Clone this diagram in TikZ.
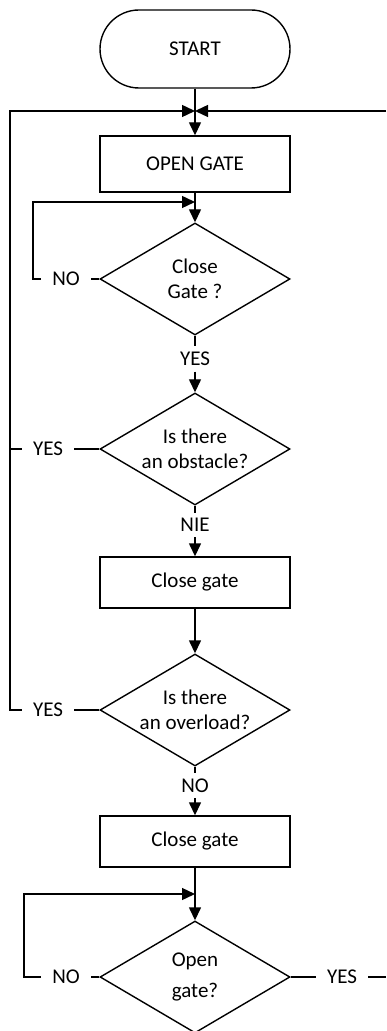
\documentclass[tikz,border=0pt]{standalone}
\usepackage{fontspec}
\setmainfont{Carlito}
\usetikzlibrary{arrows.meta,shapes.geometric}

\tikzset{
  termbox/.style={draw, rounded corners=19.5pt, minimum width=95pt, minimum height=39pt},
  procbox/.style={draw, minimum width=95pt},
  decbox/.style={draw, diamond, aspect=1.7, inner sep=0pt, minimum width=95pt, minimum height=56pt, align=center},
  lbl/.style={inner xsep=5.3pt, inner ysep=2.5pt},
  arr/.style={-{Triangle[length=6.5pt,width=6pt]}}
}

\begin{document}
\begin{tikzpicture}[x=0.5pt, y=0.5pt, line width=0.7pt, font=\fontsize{10.5}{12.5}\selectfont]
\useasboundingbox (0,0) rectangle (386,-1031);

%Main column
\node[termbox] (start) at (195,-49) {START};
\node[procbox, minimum height=28pt] (open) at (195,-164) {OPEN GATE};
\node[decbox] (close) at (195,-279) {Close\\Gate ?};
\node[decbox] (obst) at (195,-449) {Is there\\an obstacle?};
\node[procbox, minimum height=25.5pt] (shut) at (195,-582.5) {Close gate};
\node[decbox] (over) at (195,-710) {Is there\\an overload?};
\node[procbox, minimum height=25.5pt] (shutb) at (195,-841.5) {Close gate};
\node[decbox] (reopen) at (195,-977) {Open\\[3pt]gate?};

%Answers
\node[lbl] (closeno) at (66,-279) {NO};
\node[lbl] (closeyes) at (195,-359) {YES};
\node[lbl] (obstyes) at (48,-449) {YES};
\node[lbl] (obstno) at (195,-525) {NIE};
\node[lbl] (overyes) at (48,-710) {YES};
\node[lbl] (overno) at (195,-785.5) {NO};
\node[lbl] (reopenno) at (66,-977) {NO};
\node[lbl] (reopenyes) at (342,-977) {YES};

%Junctions and loop corners
\coordinate (top) at (195,-111);
\coordinate (topl) at (10,-111);
\coordinate (topr) at (386,-111);
\coordinate (mid) at (195,-202);
\coordinate (midl) at (33,-202);
\coordinate (bot) at (195,-894);
\coordinate (botl) at (24,-894);
\coordinate (edge) at (386,-977);

%Down the column
\draw [arr] (start) -- (open);
\draw [arr] (open) -- (close);
\draw (close) -- (closeyes);
\draw [arr] (closeyes) -- (obst);
\draw (obst) -- (obstno);
\draw [arr] (obstno) -- (shut);
\draw [arr] (shut) -- (over);
\draw (over) -- (overno);
\draw [arr] (overno) -- (shutb);
\draw [arr] (shutb) -- (reopen);

%Loops back
\draw (close) -- (closeno);
\draw [arr] (closeno) -| (midl) -- (mid);
\draw (obst) -- (obstyes);
\draw (obstyes) -- (obstyes -| topl);
\draw (over) -- (overyes);
\draw [arr] (overyes) -| (topl) -- (top);
\draw [arr] (topr) -- (top);
\draw (reopen) -- (reopenno);
\draw [arr] (reopenno) -| (botl) -- (bot);
\draw (reopen) -- (reopenyes);
\draw (reopenyes) -- (edge);
\end{tikzpicture}
\end{document}
